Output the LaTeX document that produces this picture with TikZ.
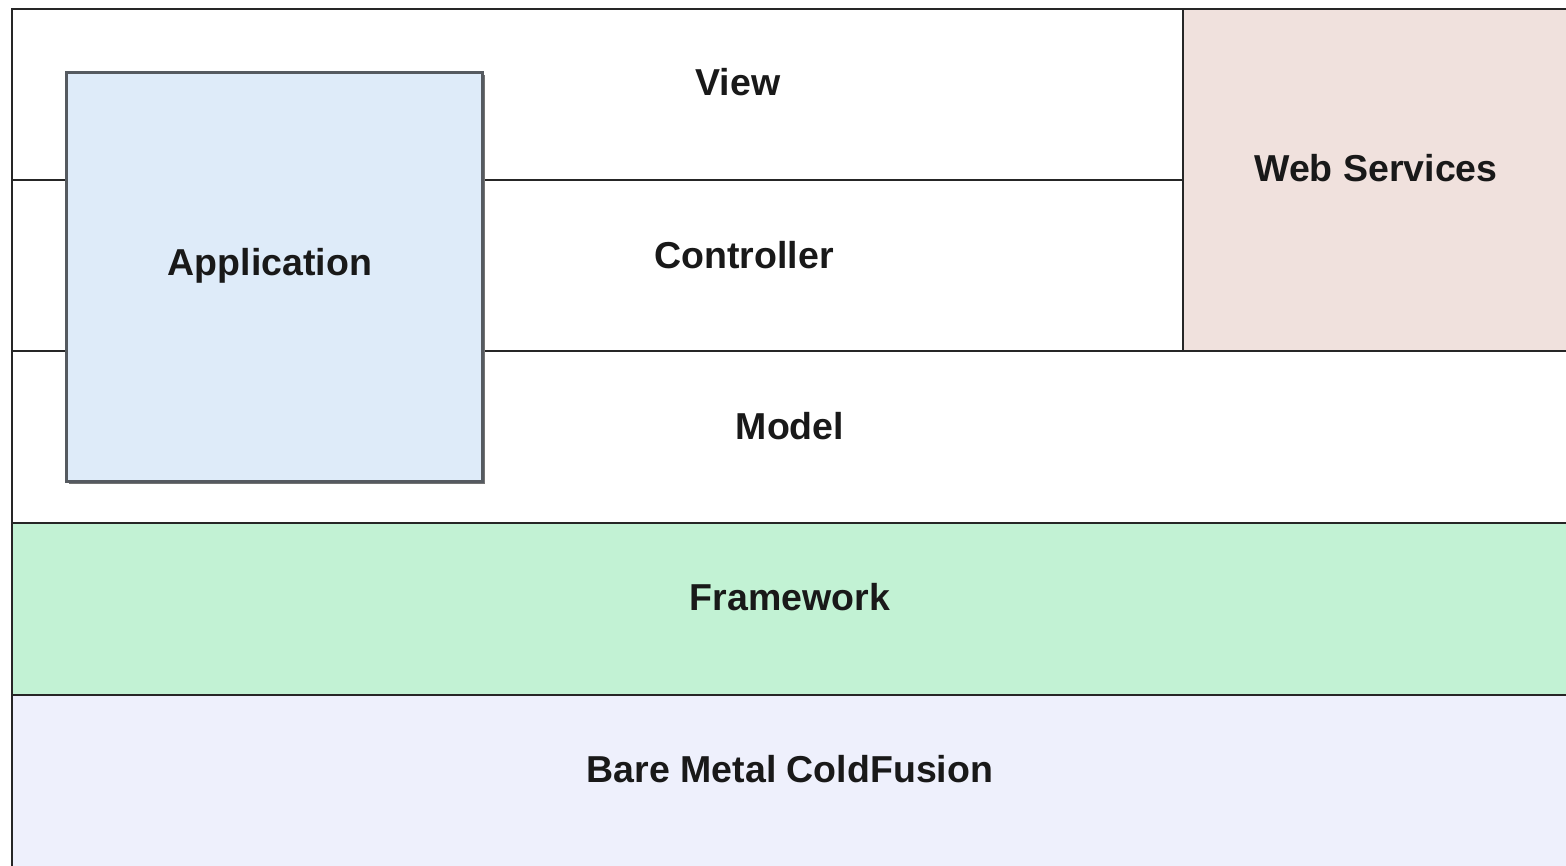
\documentclass[tikz,border=0pt]{standalone}
\usepackage{fontspec}
\setmainfont{Liberation Sans}
\usetikzlibrary{shadows}
\definecolor{appblue}{HTML}{DEEBF9}
\definecolor{wsred}{HTML}{F0E1DD}
\definecolor{fwgreen}{HTML}{C2F2D4}
\definecolor{bmblue}{HTML}{EEF0FC}
\definecolor{appedge}{HTML}{555A60}
\tikzset{
  x=1pt, y=-1pt,
  layer/.style={draw=black!85, line width=2.7pt},
  lbl/.style={font=\fontsize{37.5}{44}\selectfont\bfseries, text=black!90, inner sep=0pt},
  appbox/.style={draw=appedge, line width=2.7pt, fill=appblue,
    drop shadow={shadow xshift=2.5pt, shadow yshift=-2.5pt, fill=black!55, opacity=1}}
}
\begin{document}
\begin{tikzpicture}
\useasboundingbox (0,0) rectangle (1566,865);
\fill[white] (0,0) rectangle (1566,865);
% layers
\path[layer, fill=white] (12,9) rectangle (1183,180);
\path[layer, fill=white] (12,180) rectangle (1183,351);
\path[layer, fill=wsred] (1183,9) rectangle (1580,351);
\path[layer, fill=white] (12,351) rectangle (1580,523);
\path[layer, fill=fwgreen] (12,523) rectangle (1580,695);
\path[layer, fill=bmblue] (12,695) rectangle (1580,878);
% labels
\node[lbl] (view) at (738,82) {View};
\node[lbl] (ctrl) at (744,255) {Controller};
\node[lbl] (ws) at (1376,168) {Web Services};
\node[lbl] (model) at (790,426) {Model};
\node[lbl] (fw) at (790,597) {Framework};
\node[lbl] (bm) at (790,769) {Bare Metal ColdFusion};
% application
\node[appbox, minimum width=416pt, minimum height=409pt, anchor=north west] (app) at (65,71) {};
\node[lbl] (applbl) at (270,266) {Application};
\end{tikzpicture}
\end{document}
